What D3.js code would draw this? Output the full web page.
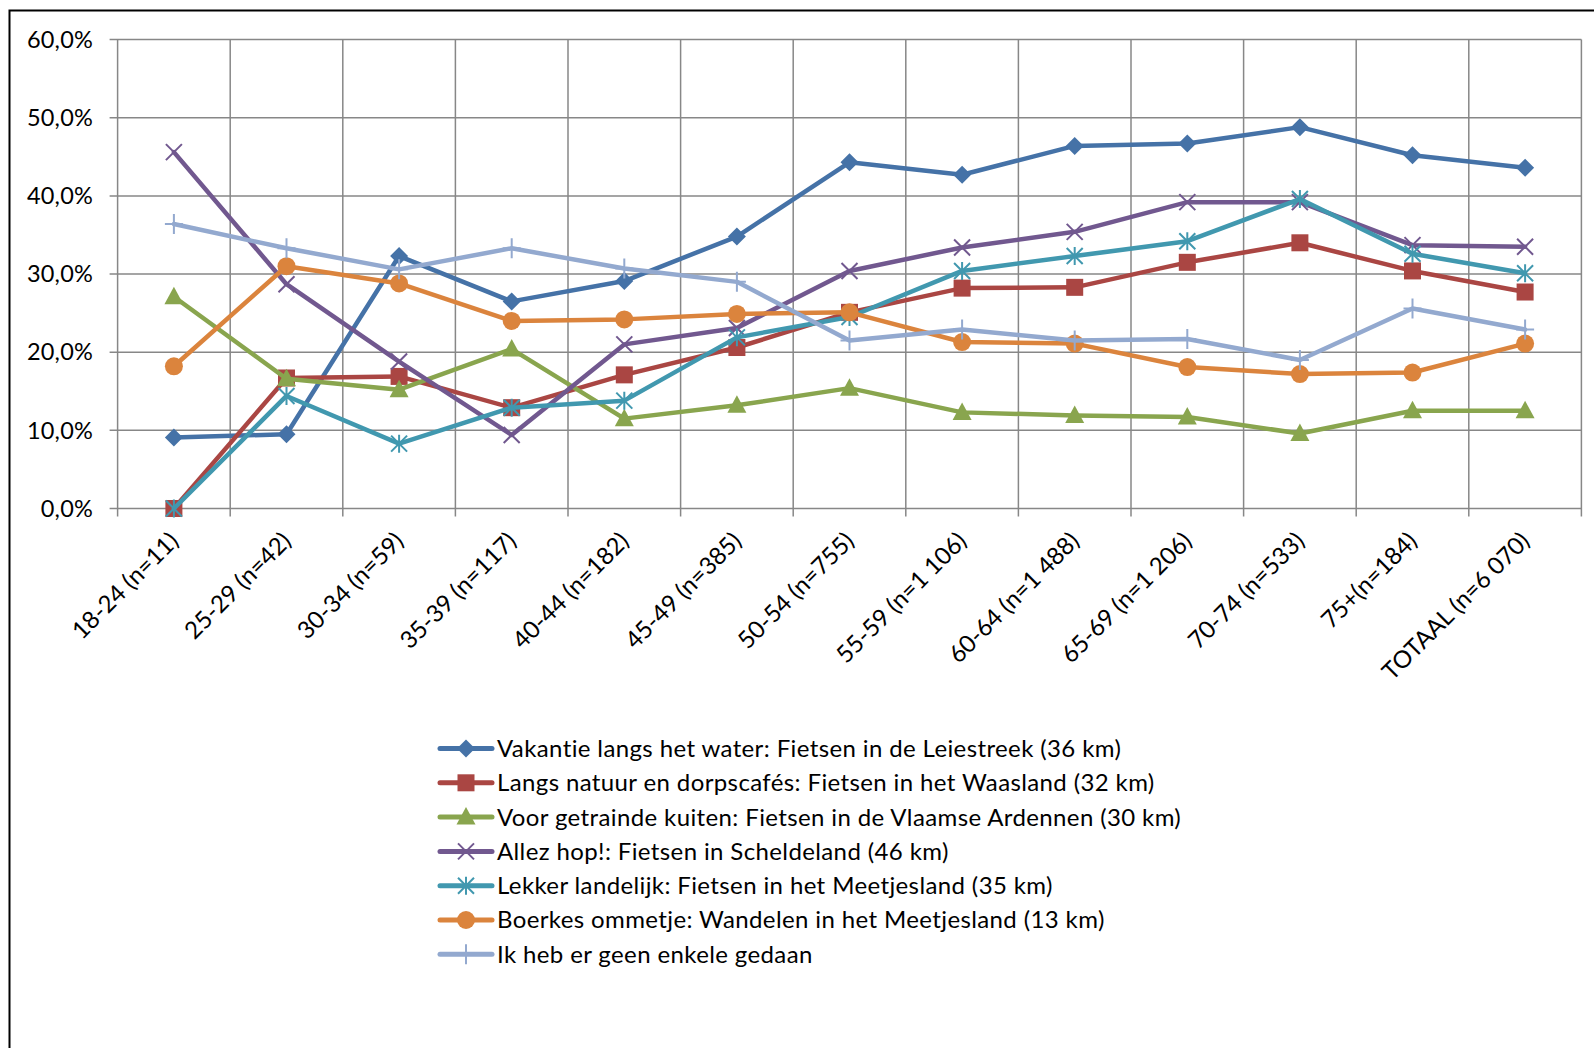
<!DOCTYPE html>
<html><head><meta charset="utf-8">
<script src="https://cdn.jsdelivr.net/npm/d3@7"></script>
<style>
body{margin:0;background:#fff}
svg{display:block}
text{font-family:Lato,'Open Sans',sans-serif;fill:#000}
</style>
</head><body>
<svg id="chart" width="1594" height="1048"></svg>
<script>
const categories = ["18-24 (n=11)","25-29 (n=42)","30-34 (n=59)","35-39 (n=117)","40-44 (n=182)","45-49 (n=385)","50-54 (n=755)","55-59 (n=1 106)","60-64 (n=1 488)","65-69 (n=1 206)","70-74 (n=533)","75+(n=184)","TOTAAL (n=6 070)"];
const seriesNames = [
  "Vakantie langs het water: Fietsen in de Leiestreek (36 km)",
  "Langs natuur en dorpscafés: Fietsen in het Waasland (32 km)",
  "Voor getrainde kuiten: Fietsen in de Vlaamse Ardennen (30 km)",
  "Allez hop!: Fietsen in Scheldeland (46 km)",
  "Lekker landelijk: Fietsen in het Meetjesland (35 km)",
  "Boerkes ommetje: Wandelen in het Meetjesland (13 km)",
  "Ik heb er geen enkele gedaan"
];
const vakantie   = [9.1, 9.5, 32.3, 26.5, 29.1, 34.8, 44.3, 42.7, 46.4, 46.7, 48.8, 45.2, 43.6];
const langs      = [0.0, 16.7, 16.9, 12.9, 17.1, 20.6, 25.1, 28.2, 28.3, 31.5, 34.0, 30.4, 27.7];
const getrainde  = [27.1, 16.6, 15.2, 20.4, 11.5, 13.2, 15.4, 12.3, 11.9, 11.7, 9.6, 12.5, 12.5];
const allezHop   = [45.6, 28.7, 18.8, 9.4, 21.0, 23.1, 30.4, 33.4, 35.4, 39.2, 39.2, 33.7, 33.5];
const lekker     = [0.0, 14.4, 8.3, 12.9, 13.8, 21.9, 24.5, 30.4, 32.3, 34.2, 39.6, 32.6, 30.1];
const boerkes    = [18.2, 31.0, 28.8, 24.0, 24.2, 24.9, 25.1, 21.3, 21.1, 18.1, 17.2, 17.4, 21.1];
const geen       = [36.4, 33.3, 30.6, 33.3, 30.7, 29.0, 21.5, 22.9, 21.5, 21.7, 19.0, 25.6, 22.9];
const yTickValues = [0, 10, 20, 30, 40, 50, 60];

const seriesValues = [vakantie, langs, getrainde, allezHop, lekker, boerkes, geen];
const colors = ["#4572A7","#AA4643","#89A54E","#71588F","#4198AF","#DB843D","#93A9CF"];
const markerTypes = ["diamond","square","triangle","x","asterisk","circle","plus"];

const svg = d3.select("#chart");
const gridColor = "#878787";

// frame
svg.append("rect").attr("x",9.5).attr("y",10.5).attr("width",1700).attr("height",1200)
  .attr("fill","none").attr("stroke","#000").attr("stroke-width",2);

const x = d3.scaleBand().domain(categories).range([117.6, 1581.4]).paddingInner(0).paddingOuter(0);
const y = d3.scaleLinear().domain([0, 60]).range([508.5, 39.6]);

const nl = d3.formatLocale({decimal:",", thousands:" ", grouping:[3], currency:["","€"]});
const fmt = v => nl.format(".1f")(v) + "%";

const grid = svg.append("g");
grid.selectAll("line.h").data(yTickValues).join("line")
  .attr("x1", x.range()[0] - 8).attr("x2", x.range()[1])
  .attr("y1", d => y(d)).attr("y2", d => y(d))
  .attr("stroke", gridColor).attr("stroke-width", 1.5);
const bounds = categories.map(c => x(c)).concat([x.range()[1]]);
grid.selectAll("line.v").data(bounds).join("line")
  .attr("x1", d => d).attr("x2", d => d)
  .attr("y1", y(60)).attr("y2", y(0) + 8)
  .attr("stroke", gridColor).attr("stroke-width", 1.5);

// y labels
svg.append("g").selectAll("text").data(yTickValues).join("text")
  .attr("x", 93).attr("y", d => y(d)).attr("dy", "0.35em")
  .attr("text-anchor", "end").attr("font-size", 23.5).attr("letter-spacing", 0.2)
  .text(d => fmt(d));

// x labels
svg.append("g").selectAll("text").data(categories).join("text")
  .attr("transform", d => `translate(${x(d) + x.bandwidth()/2 - 6},${y(0) + 22}) rotate(-45)`)
  .attr("dy", "0.71em")
  .attr("text-anchor", "end").attr("font-size", 24)
  .text(d => d);

function drawMarker(g, type, color) {
  if (type === "diamond") {
    g.append("path").attr("d", "M0,-9L9,0L0,9L-9,0Z").attr("fill", color);
  } else if (type === "square") {
    g.append("rect").attr("x",-8.5).attr("y",-8.5).attr("width",17).attr("height",17).attr("fill", color);
  } else if (type === "triangle") {
    g.append("path").attr("d", "M0,-10L9.5,7.5L-9.5,7.5Z").attr("fill", color);
  } else if (type === "circle") {
    g.append("circle").attr("r", 9).attr("fill", color);
  } else if (type === "x") {
    g.append("path").attr("d", "M-8,-8L8,8M-8,8L8,-8").attr("stroke", color).attr("stroke-width", 2).attr("fill","none");
  } else if (type === "asterisk") {
    g.append("path").attr("d", "M-8,-8L8,8M-8,8L8,-8M0,-9L0,9").attr("stroke", color).attr("stroke-width", 2).attr("fill","none");
  } else if (type === "plus") {
    g.append("path").attr("d", "M-9,0L9,0M0,-10L0,10").attr("stroke", color).attr("stroke-width", 2).attr("fill","none");
  }
}

const line = d3.line().x((d, i) => x(categories[i]) + x.bandwidth()/2).y(d => y(d));

seriesValues.forEach((vals, si) => {
  const g = svg.append("g");
  g.append("path").attr("d", line(vals)).attr("fill","none")
    .attr("stroke", colors[si]).attr("stroke-width", 4.5)
    .attr("stroke-linejoin","round").attr("stroke-linecap","round");
  vals.forEach((v, i) => {
    const mg = g.append("g").attr("transform", `translate(${x(categories[i]) + x.bandwidth()/2},${y(v)})`);
    drawMarker(mg, markerTypes[si], colors[si]);
  });
});

// legend
const legendY0 = 748.5, legendStep = 34.3;
const lg = svg.append("g");
seriesNames.forEach((name, si) => {
  const cy = legendY0 + si * legendStep;
  lg.append("line").attr("x1", 440).attr("x2", 492).attr("y1", cy).attr("y2", cy)
    .attr("stroke", colors[si]).attr("stroke-width", 5).attr("stroke-linecap","round");
  const mg = lg.append("g").attr("transform", `translate(466,${cy})`);
  drawMarker(mg, markerTypes[si], colors[si]);
  lg.append("text").attr("x", 497).attr("y", cy).attr("dy", "0.35em")
    .attr("font-size", 24).attr("letter-spacing", 0.38).text(name);
});
</script>
</body></html>
